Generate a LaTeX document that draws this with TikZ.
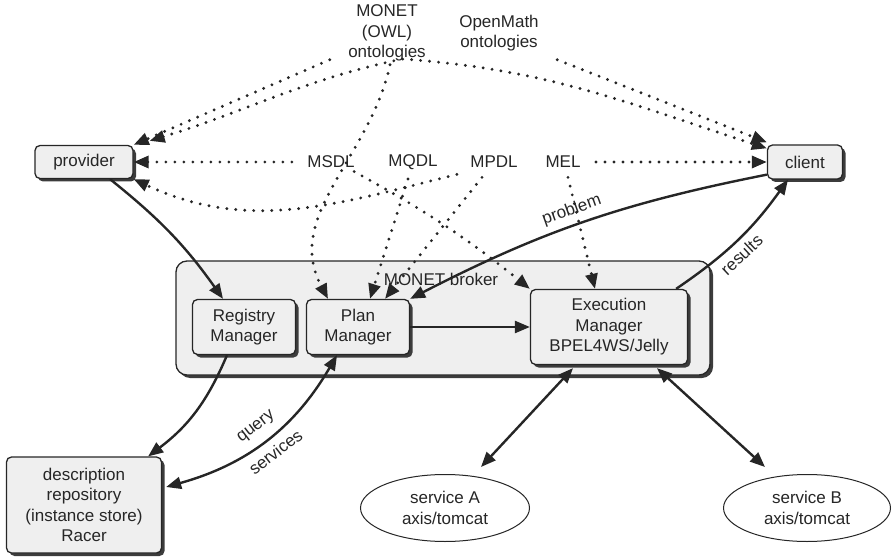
\documentclass[tikz,border=0pt]{standalone}
\usepackage{fontspec}
\setmainfont{Liberation Sans}
\usetikzlibrary{arrows.meta,shadows,shapes.geometric}
\definecolor{boxgray}{HTML}{EFEFEF}
\definecolor{inkgray}{HTML}{262626}
\definecolor{shadowgray}{HTML}{3C3C3C}
\begin{document}
\begin{tikzpicture}[x=1pt, y=1pt, >={Triangle[length=15pt,width=12pt]},
    every node/.style={font=\fontsize{17}{20.5}\selectfont, text=inkgray, align=center}]
    \tikzstyle{block} = [shape=rectangle, draw=inkgray, line width=1.3pt, fill=boxgray, rounded corners=5pt,
        drop shadow={shadow xshift=3pt, shadow yshift=-3pt, fill=shadowgray, opacity=1}]
    \tikzstyle{service} = [shape=ellipse, draw=inkgray, line width=1pt, fill=white]
    \tikzstyle{solidlink} = [draw=inkgray, line width=2.4pt, ->]
    \tikzstyle{dotlink} = [draw=inkgray, line width=3.2pt, line cap=round, dash pattern=on 0pt off 9pt, ->]
    \tikzstyle{labelled} = [sloped, inner sep=6pt]

    \useasboundingbox (0,0) rectangle (892,-559);

    \node[block, minimum width=534pt, minimum height=114pt, rounded corners=11pt] (broker) at (443,-318) {};
    \node (brokerlabel) at (441,-279) {MONET broker};

        \node[block, minimum width=103pt, minimum height=55pt] (registry) at (244,-327) {Registry\\Manager};
        \node[block, minimum width=103pt, minimum height=55pt] (plan)     at (358,-327) {Plan\\Manager};
        \node[block, minimum width=157pt, minimum height=75pt] (exec)     at (609,-327) {Execution\\Manager\\BPEL4WS/Jelly};

    \node[block, minimum width=98pt,  minimum height=33pt] (provider)   at (84,-162)  {provider};
    \node[block, minimum width=75pt,  minimum height=34pt] (client)     at (805,-162) {client};
    \node[block, minimum width=155pt, minimum height=96pt] (repository) at (84,-505)  {description\\repository\\(instance store)\\Racer};

    \node[service, minimum width=169pt, minimum height=67pt] (serviceA) at (445,-508) {service A\\axis/tomcat};
    \node[service, minimum width=167pt, minimum height=67pt] (serviceB) at (807,-508) {service B\\axis/tomcat};

    \node (monet)    at (387,-33) {MONET\\(OWL)\\ontologies};
    \node (openmath) at (499,-33) {OpenMath\\ontologies};

    \node (msdl) at (331,-162) {MSDL};
    \node (mqdl) at (413,-162) {MQDL};
    \node (mpdl) at (494,-162) {MPDL};
    \node (mel)  at (563,-162) {MEL};

    \coordinate (ontbend) at (402,-59);

    \draw[dotlink] ([xshift=-15pt,yshift=5pt]monet.south west) -- (provider.north east);
    \draw[dotlink, <->] ([xshift=16pt,yshift=4pt]provider.north east) to[out=17,in=192] (ontbend)
        to[out=-4,in=162] ([yshift=-4pt]client.north west);
    \draw[dotlink] ([xshift=15pt,yshift=-5pt]openmath.south east) -- ([yshift=2pt]client.north west);
    \draw[dotlink] ([xshift=3pt]monet.south) to[out=-102,in=118] ([xshift=-30pt]plan.north);

    \draw[dotlink, shorten <=12pt] (msdl.west) -- (provider.east);
    \draw[dotlink, shorten <=12pt] (mel.east) -- (client.west);
    \draw[dotlink] ([xshift=-10pt,yshift=-3pt]mpdl.south west) to[out=194,in=-25] (provider.south east);
    \draw[dotlink] ([xshift=-4pt]msdl.south east) to[bend left=5] (exec.north west);
    \draw[dotlink] ([xshift=-5pt,yshift=-6pt]mqdl.south) -- ([xshift=12pt]plan.north);
    \draw[dotlink] ([xshift=-12pt,yshift=-6pt]mpdl.south) -- ([xshift=27pt]plan.north);
    \draw[dotlink] ([xshift=5pt,yshift=-6pt]mel.south) -- ([xshift=-14pt]exec.north);

    \draw[solidlink] ([xshift=26pt]provider.south) to[bend left=8] ([xshift=-21pt]registry.north);
    \draw[solidlink] ([xshift=-17pt]registry.south) to[bend left=15] ([xshift=-14pt]repository.north east);
    \draw[solidlink, <->] ([xshift=-21pt]plan.south) to[bend left=22]
        node[labelled, above, pos=0.5, inner sep=8pt] {query} node[labelled, below, pos=0.5, inner sep=8pt] {services}
        ([xshift=4pt,yshift=18pt]repository.east);
    \draw[solidlink] (plan.east) -- (exec.west);
    \draw[solidlink] ([yshift=5pt]client.south west) to[bend right=8]
        node[labelled, above, pos=0.52] {problem} (plan.north east);
    \draw[solidlink] ([xshift=-12pt]exec.north east) to[bend right=10]
        node[labelled, below, pos=0.45] {results} ([xshift=-17pt]client.south);
    \draw[solidlink, <->] ([xshift=-36pt,yshift=-3pt]exec.south) -- ([xshift=36pt,yshift=7pt]serviceA.north);
    \draw[solidlink, <->] ([xshift=48pt,yshift=-3pt]exec.south) -- ([xshift=-42pt,yshift=7pt]serviceB.north);
\end{tikzpicture}
\end{document}
